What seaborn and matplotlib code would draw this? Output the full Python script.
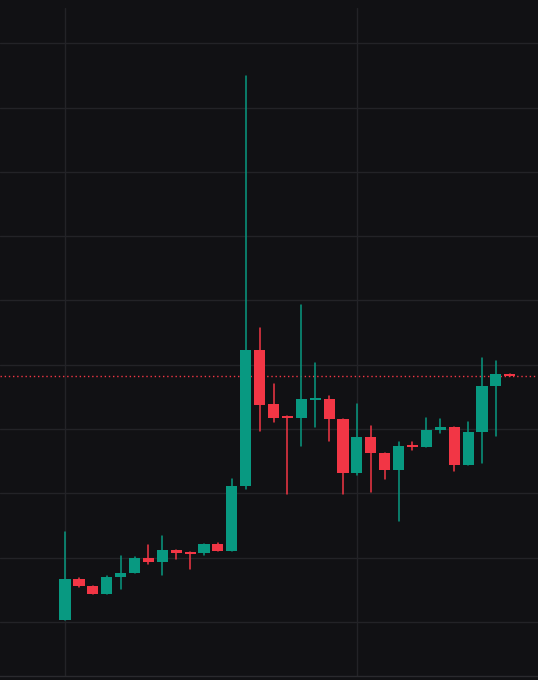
import pandas as pd
import matplotlib
matplotlib.use('Agg')
import matplotlib.pyplot as plt
import seaborn as sns

# candle data (arbitrary price units, grid step = 1)
opens = [1.031, 1.669, 1.560, 1.435, 1.700, 1.762, 1.995, 1.933, 2.120, 2.081,
         2.073, 2.213, 2.104, 3.115, 5.230, 4.390, 4.196, 4.173, 4.460, 4.468,
         4.157, 3.317, 3.877, 3.628, 3.364, 3.745, 3.722, 3.986, 4.033, 3.442,
         3.955, 4.670, 4.857]
closes = [1.669, 1.560, 1.435, 1.700, 1.762, 1.995, 1.933, 2.120, 2.073, 2.058,
          2.213, 2.104, 3.115, 5.230, 4.375, 4.173, 4.173, 4.468, 4.476, 4.157,
          3.317, 3.877, 3.628, 3.364, 3.737, 3.729, 3.986, 4.033, 3.442, 3.955,
          4.670, 4.857, 4.826]
highs = [2.400, 1.684, 1.560, 1.715, 2.026, 2.011, 2.198, 2.337, 2.120, 2.081,
         2.213, 2.229, 3.224, 9.491, 5.572, 4.701, 4.196, 5.930, 5.028, 4.515,
         4.157, 4.390, 4.048, 3.628, 3.799, 3.799, 4.173, 4.157, 4.033, 4.110,
         5.106, 5.059, 4.857]
lows = [1.031, 1.544, 1.435, 1.435, 1.513, 1.762, 1.902, 1.731, 1.980, 1.824,
        2.042, 2.104, 2.104, 3.068, 3.970, 4.110, 2.991, 3.737, 4.033, 3.815,
        2.991, 3.286, 3.022, 3.224, 2.571, 3.675, 3.722, 3.939, 3.348, 3.442,
        3.473, 3.893, 4.826]
grid_prices = [1, 2, 3, 4, 5, 6, 7, 8, 9, 10]
grid_candles = [0, 21]

UP = '#089981'
DOWN = '#f23645'
BG = '#111114'
GRID = '#232327'

df = pd.DataFrame({'open': opens, 'close': closes, 'high': highs, 'low': lows})
df['i'] = range(len(df))
df['dir'] = ['up' if c >= o else 'down' for o, c in zip(df['open'], df['close'])]
palette = {'up': UP, 'down': DOWN}

sns.set_style('dark', {'axes.facecolor': BG, 'figure.facecolor': BG,
                       'grid.color': GRID, 'axes.edgecolor': GRID})

fig = plt.figure(figsize=(5.38, 6.8), dpi=100)
ax = fig.add_axes([0, 4 / 680, 1, 668 / 680])

# wicks
wicks = df.melt(id_vars=['i', 'dir'], value_vars=['low', 'high'], value_name='price')
sns.lineplot(data=wicks, x='i', y='price', units='i', estimator=None, hue='dir',
             palette=palette, linewidth=1.1, legend=False, sort=False, ax=ax)

# bodies
bottom = df[['open', 'close']].min(axis=1)
height = (df['close'] - df['open']).abs().clip(lower=0.025)
ax.bar(df['i'], height, bottom=bottom, width=0.8,
       color=[palette[d] for d in df['dir']], linewidth=0, zorder=3)

# last price line
ax.axhline(closes[-1], color=DOWN, linestyle=(0, (1, 2)), linewidth=1.0, zorder=1)

ax.set_xlim(-4.68, 34.03)
ax.set_ylim(0.160, 10.549)
ax.set_yticks(grid_prices)
ax.set_xticks(grid_candles)
ax.grid(True, color=GRID, linewidth=1.0)
ax.set_axisbelow(True)
ax.tick_params(left=False, bottom=False, labelleft=False, labelbottom=False)
ax.set_xlabel('')
ax.set_ylabel('')
for side in ['top', 'left', 'right']:
    ax.spines[side].set_visible(False)
ax.spines['bottom'].set_color('#2a2a2e')
ax.spines['bottom'].set_linewidth(1.0)

fig.savefig('out.png', dpi=100, facecolor=BG)
